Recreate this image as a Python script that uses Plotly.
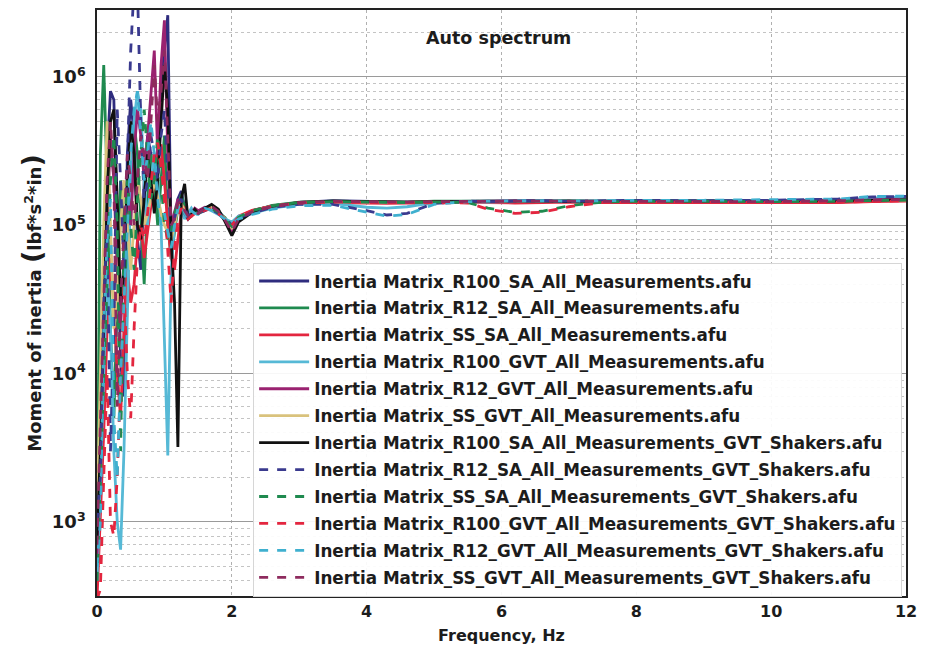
import plotly.graph_objects as go

# Frequency grids (Hz)
F_LOW = [0.00, 0.05, 0.10, 0.15, 0.20, 0.25, 0.30, 0.35, 0.40, 0.45, 0.50, 0.55, 0.60, 0.65, 0.70,
         0.75, 0.80, 0.85, 0.90, 0.95, 1.00, 1.05, 1.10, 1.15, 1.20, 1.25, 1.30, 1.35, 1.40, 1.45, 1.50]
F_HIGH = [1.6, 1.7, 1.8, 1.9, 2.0, 2.1, 2.3, 2.6, 3.0, 3.5, 4.0, 4.3, 4.6, 5.0, 5.5, 5.8, 6.2, 6.6,
          7.0, 7.5, 8.0, 9.0, 10.0, 11.0, 11.5, 12.0]

NAMES = [
    "Inertia Matrix_R100_SA_All_Measurements.afu",
    "Inertia Matrix_R12_SA_All_Measurements.afu",
    "Inertia Matrix_SS_SA_All_Measurements.afu",
    "Inertia Matrix_R100_GVT_All_Measurements.afu",
    "Inertia Matrix_R12_GVT_All_Measurements.afu",
    "Inertia Matrix_SS_GVT_All_Measurements.afu",
    "Inertia Matrix_R100_SA_All_Measurements_GVT_Shakers.afu",
    "Inertia Matrix_R12_SA_All_Measurements_GVT_Shakers.afu",
    "Inertia Matrix_SS_SA_All_Measurements_GVT_Shakers.afu",
    "Inertia Matrix_R100_GVT_All_Measurements_GVT_Shakers.afu",
    "Inertia Matrix_R12_GVT_All_Measurements_GVT_Shakers.afu",
    "Inertia Matrix_SS_GVT_All_Measurements_GVT_Shakers.afu",
]

# Low-frequency values (lbf*s^2*in)
R100_SA_LOW = [2e3, 8e3, 6e4, 3e5, 8e5, 7e5, 1e5, 1.2e4, 7e3, 3e5, 7e5, 4e5, 8e4, 5e4, 2e5, 4e5,
               3e5, 1.5e5, 3e5, 9e5, 1.5e6, 2.6e6, 8e4, 1e5, 1.5e5, 1.7e5, 1.3e5, 1.15e5, 1.2e5, 1.25e5, 1.2e5]
R12_SA_LOW = [5e2, 3e5, 1.2e6, 2e5, 2e4, 5e3, 3e4, 2e5, 1e5, 3e4, 2e5, 5e5, 3e5, 1e5, 4e4, 1.5e5,
              3e5, 2e5, 1e5, 2e5, 4e5, 1e5, 6e4, 9e4, 1.3e5, 1.6e5, 1.3e5, 1.1e5, 1.15e5, 1.25e5, 1.2e5]
SS_SA_LOW = [3e2, 1e3, 4e3, 2e4, 6e4, 3e4, 1e4, 5e3, 2e4, 5e4, 3e4, 4e4, 8e4, 1e5, 6e4, 9e4,
             1.3e5, 2e5, 3e5, 3.5e5, 2e5, 1e5, 6e4, 5e4, 8e4, 1.2e5, 1.3e5, 1.2e5, 1.15e5, 1.2e5, 1.22e5]
R100_GVT_LOW = [4e2, 2e3, 1e4, 5e4, 2e4, 3e3, 1e3, 6.5e2, 3e3, 3e4, 2e5, 5e5, 8e5, 6e5, 2e5, 1e5,
                2e5, 3e5, 2e5, 1e5, 2e4, 2.8e3, 5e4, 1e5, 1.4e5, 1.3e5, 1.1e5, 1.2e5, 1.3e5, 1.2e5, 1.18e5]
R12_GVT_LOW = [6e2, 5e3, 3e4, 1e5, 4e5, 2e5, 5e4, 2e4, 6e4, 2e5, 1e5, 3e5, 6e5, 4e5, 2e5, 4e5,
               8e5, 1.5e6, 3e5, 1.2e6, 2.4e6, 3e5, 1e5, 1.2e5, 1.5e5, 1.4e5, 1.2e5, 1.1e5, 1.2e5, 1.3e5, 1.25e5]
SS_GVT_LOW = [1e3, 1e4, 1e5, 5e5, 1e5, 2e4, 3e4, 1e5, 2e5, 1e5, 5e4, 1e5, 2e5, 1.5e5, 1e5, 1.2e5,
              1.5e5, 2e5, 1.5e5, 1.2e5, 1e5, 9e4, 8e4, 1e5, 1.3e5, 1.4e5, 1.25e5, 1.15e5, 1.2e5, 1.25e5, 1.2e5]
R100_SA_SH_LOW = [8e2, 3e3, 2e4, 1.5e5, 5e5, 6e5, 1.5e5, 3e4, 5e4, 2e5, 5e5, 3e5, 1e5, 8e4, 1.5e5, 3e5,
                  2e5, 1.2e5, 2e5, 5e5, 1.2e6, 6e5, 8e4, 3e4, 3.2e3, 1.5e5, 1.9e5, 1.1e5, 1.2e5, 1.28e5, 1.2e5]
R12_SA_SH_LOW = [1e3, 2e3, 3e4, 1e5, 3e3, 2e4, 6e5, 2e5, 5e4, 3e5, 1.5e6, 4e6, 4e6, 5e5, 1.5e5, 2e5,
                 4e5, 3e5, 2e5, 4e5, 6e5, 2e5, 9e4, 1.1e5, 1.4e5, 1.5e5, 1.3e5, 1.15e5, 1.2e5, 1.25e5, 1.2e5]
SS_SA_SH_LOW = [4e2, 2e3, 8e3, 5e4, 2e5, 4e5, 1e5, 3e3, 8e4, 2e5, 1e5, 5e4, 1.5e5, 3e5, 6e5, 3e5,
                1.5e5, 2e5, 4e5, 2e5, 1e5, 8e4, 9e4, 1.2e5, 1.4e5, 1.35e5, 1.2e5, 1.15e5, 1.2e5, 1.22e5, 1.2e5]
R100_GVT_SH_LOW = [3e2, 3.5e2, 2e3, 1e4, 1e3, 8e2, 2e3, 1e4, 4e4, 1e4, 5e3, 2e4, 6e4, 1e5, 8e4, 1.2e5,
                   2e5, 3e5, 3.6e5, 2.5e5, 1.5e5, 7e4, 3e4, 7e4, 1.1e5, 1.3e5, 1.2e5, 1.1e5, 1.15e5, 1.2e5, 1.2e5]
R12_GVT_SH_LOW = [5e2, 1e3, 2e4, 8e4, 1.5e5, 5e3, 2e3, 1e4, 3e4, 1e5, 3e5, 6e5, 8e5, 4e5, 2e5, 3e5,
                  5e5, 3e5, 1.5e5, 1e5, 1.2e5, 9e4, 7e4, 1e5, 1.3e5, 1.4e5, 1.2e5, 1.1e5, 1.25e5, 1.2e5, 1.18e5]
SS_GVT_SH_LOW = [7e2, 4e3, 3e4, 2e5, 5e5, 2e5, 6e3, 3e4, 1e5, 3e5, 2e5, 1e5, 2e5, 4e5, 3e5, 2e5,
                 5e5, 1.2e6, 5e5, 8e5, 1.5e6, 4e5, 1e5, 1.1e5, 1.4e5, 1.45e5, 1.25e5, 1.15e5, 1.2e5, 1.22e5, 1.2e5]

# High-frequency values
R100_SA_HIGH = [1.3e5, 1.35e5, 1.25e5, 1.1e5, 8.7e4, 1.1e5, 1.25e5, 1.35e5, 1.42e5, 1.46e5, 1.44e5, 1.43e5, 1.43e5,
                1.44e5, 1.45e5, 1.44e5, 1.45e5, 1.46e5, 1.45e5, 1.44e5, 1.45e5, 1.45e5, 1.44e5, 1.45e5, 1.47e5, 1.48e5]
R12_SA_HIGH = [1.28e5, 1.33e5, 1.22e5, 1.12e5, 9.5e4, 1.12e5, 1.24e5, 1.36e5, 1.43e5, 1.45e5, 1.44e5, 1.44e5, 1.43e5,
               1.45e5, 1.46e5, 1.45e5, 1.44e5, 1.45e5, 1.46e5, 1.45e5, 1.44e5, 1.46e5, 1.45e5, 1.44e5, 1.46e5, 1.47e5]
SS_SA_HIGH = [1.25e5, 1.3e5, 1.2e5, 1.1e5, 1e5, 1.15e5, 1.26e5, 1.34e5, 1.4e5, 1.42e5, 1.41e5, 1.4e5, 1.41e5,
              1.42e5, 1.43e5, 1.42e5, 1.41e5, 1.42e5, 1.43e5, 1.42e5, 1.42e5, 1.43e5, 1.42e5, 1.42e5, 1.44e5, 1.45e5]
R100_GVT_HIGH = [1.3e5, 1.25e5, 1.18e5, 1.1e5, 1.05e5, 1.15e5, 1.2e5, 1.3e5, 1.38e5, 1.4e5, 1.32e5, 1.3e5, 1.33e5,
                 1.42e5, 1.44e5, 1.43e5, 1.44e5, 1.45e5, 1.44e5, 1.45e5, 1.46e5, 1.45e5, 1.46e5, 1.48e5, 1.52e5, 1.55e5]
R12_GVT_HIGH = [1.32e5, 1.3e5, 1.2e5, 1.08e5, 9.2e4, 1.1e5, 1.22e5, 1.33e5, 1.41e5, 1.44e5, 1.43e5, 1.42e5, 1.42e5,
                1.44e5, 1.45e5, 1.44e5, 1.45e5, 1.45e5, 1.44e5, 1.44e5, 1.45e5, 1.44e5, 1.45e5, 1.46e5, 1.48e5, 1.5e5]
SS_GVT_HIGH = [1.27e5, 1.32e5, 1.22e5, 1.1e5, 9.6e4, 1.12e5, 1.24e5, 1.34e5, 1.42e5, 1.44e5, 1.43e5, 1.42e5, 1.42e5,
               1.44e5, 1.44e5, 1.43e5, 1.44e5, 1.45e5, 1.44e5, 1.44e5, 1.44e5, 1.45e5, 1.44e5, 1.45e5, 1.46e5, 1.47e5]
R100_SA_SH_HIGH = [1.3e5, 1.38e5, 1.28e5, 1.05e5, 8.5e4, 1.05e5, 1.22e5, 1.33e5, 1.42e5, 1.45e5, 1.44e5, 1.43e5, 1.43e5,
                   1.44e5, 1.45e5, 1.45e5, 1.45e5, 1.45e5, 1.44e5, 1.45e5, 1.45e5, 1.44e5, 1.45e5, 1.45e5, 1.47e5, 1.48e5]
R12_SA_SH_HIGH = [1.25e5, 1.28e5, 1.2e5, 1.12e5, 1e5, 1.12e5, 1.2e5, 1.32e5, 1.38e5, 1.38e5, 1.25e5, 1.17e5, 1.2e5,
                  1.4e5, 1.45e5, 1.44e5, 1.45e5, 1.46e5, 1.45e5, 1.46e5, 1.47e5, 1.46e5, 1.47e5, 1.5e5, 1.55e5, 1.56e5]
SS_SA_SH_HIGH = [1.28e5, 1.3e5, 1.22e5, 1.1e5, 9.8e4, 1.13e5, 1.25e5, 1.35e5, 1.42e5, 1.44e5, 1.43e5, 1.43e5, 1.42e5,
                 1.43e5, 1.42e5, 1.3e5, 1.22e5, 1.24e5, 1.35e5, 1.43e5, 1.45e5, 1.45e5, 1.44e5, 1.45e5, 1.47e5, 1.48e5]
R100_GVT_SH_HIGH = [1.26e5, 1.3e5, 1.2e5, 1.1e5, 1e5, 1.14e5, 1.25e5, 1.34e5, 1.41e5, 1.43e5, 1.42e5, 1.42e5, 1.41e5,
                    1.42e5, 1.41e5, 1.28e5, 1.2e5, 1.22e5, 1.33e5, 1.42e5, 1.43e5, 1.43e5, 1.42e5, 1.43e5, 1.45e5, 1.46e5]
R12_GVT_SH_HIGH = [1.3e5, 1.26e5, 1.18e5, 1.1e5, 1.02e5, 1.1e5, 1.18e5, 1.28e5, 1.35e5, 1.36e5, 1.22e5, 1.15e5, 1.18e5,
                   1.38e5, 1.44e5, 1.45e5, 1.46e5, 1.46e5, 1.45e5, 1.46e5, 1.47e5, 1.47e5, 1.48e5, 1.5e5, 1.56e5, 1.57e5]
SS_GVT_SH_HIGH = [1.3e5, 1.34e5, 1.24e5, 1.08e5, 9e4, 1.1e5, 1.23e5, 1.34e5, 1.42e5, 1.45e5, 1.44e5, 1.43e5, 1.43e5,
                  1.44e5, 1.45e5, 1.44e5, 1.45e5, 1.45e5, 1.45e5, 1.44e5, 1.45e5, 1.45e5, 1.44e5, 1.46e5, 1.48e5, 1.49e5]

SERIES_LOW = [R100_SA_LOW, R12_SA_LOW, SS_SA_LOW, R100_GVT_LOW, R12_GVT_LOW, SS_GVT_LOW,
              R100_SA_SH_LOW, R12_SA_SH_LOW, SS_SA_SH_LOW, R100_GVT_SH_LOW, R12_GVT_SH_LOW, SS_GVT_SH_LOW]
SERIES_HIGH = [R100_SA_HIGH, R12_SA_HIGH, SS_SA_HIGH, R100_GVT_HIGH, R12_GVT_HIGH, SS_GVT_HIGH,
               R100_SA_SH_HIGH, R12_SA_SH_HIGH, SS_SA_SH_HIGH, R100_GVT_SH_HIGH, R12_GVT_SH_HIGH, SS_GVT_SH_HIGH]

COLORS = ["#2f2c7e", "#1f8a4f", "#e3263f", "#56b9d6", "#9a2270", "#d9c27c",
          "#111111", "#3a3a8e", "#1f8a4f", "#e3263f", "#3fb0cf", "#8e2b5e"]
DASHES = ["solid"] * 7 + ["dash"] * 5

Y_TICKS = [1e3, 1e4, 1e5, 1e6]
Y_TICK_TEXT = ["10<sup>3</sup>", "10<sup>4</sup>", "10<sup>5</sup>", "10<sup>6</sup>"]
X_TICKS = [0, 2, 4, 6, 8, 10, 12]

FONT = "DejaVu Sans, Verdana, sans-serif"
INK = "#1c1c1c"

fig = go.Figure()
for name, lo, hi, col, dash in zip(NAMES, SERIES_LOW, SERIES_HIGH, COLORS, DASHES):
    fig.add_trace(go.Scatter(
        x=F_LOW + F_HIGH, y=lo + hi, mode="lines", name=name, legendgroup=name,
        line=dict(color=col, width=2.8, dash=dash),
    ))

minor_vals = [m * 10 ** e for e in range(2, 7) for m in range(2, 10)]

fig.update_layout(
    width=925, height=656,
    margin=dict(l=97, r=19, t=8, b=60),
    paper_bgcolor="white", plot_bgcolor="white",
    font=dict(family=FONT, color=INK, weight="bold"),
    showlegend=True,
    legend=dict(
        x=0.193, y=0.569, xanchor="left", yanchor="top",
        bgcolor="rgba(255,255,255,0.92)", bordercolor="#d6d6d6", borderwidth=1,
        font=dict(family=FONT, size=16.8, color=INK, weight="bold"),
        tracegroupgap=2.1, itemwidth=50,
    ),
    annotations=[dict(
        text="Auto spectrum", x=0.496, y=0.952, xref="paper", yref="paper",
        xanchor="center", yanchor="middle",
        showarrow=False, font=dict(family=FONT, size=17.5, color=INK, weight="bold"),
    )],
    xaxis=dict(
        range=[0, 12], tickvals=X_TICKS, ticks="", showline=True, mirror=True,
        linecolor="#222", linewidth=1.5, showgrid=True, gridcolor="#b0b0b0", griddash="dot",
        gridwidth=1, zeroline=False,
        tickfont=dict(size=16, family=FONT, color=INK, weight="bold"),
        title=dict(text="Frequency, Hz", font=dict(size=16, family=FONT, weight="bold"), standoff=10),
    ),
    yaxis=dict(
        type="log", range=[2.5, 6.45], tickmode="array", tickvals=Y_TICKS, ticktext=Y_TICK_TEXT,
        ticks="", showline=True, mirror=True, linecolor="#222", linewidth=1.5,
        showgrid=True, gridcolor="#9a9a9a", gridwidth=1, ticklabelstandoff=6,
        minor=dict(tickmode="array", tickvals=minor_vals, showgrid=True,
                   gridcolor="#c4c4c4", griddash="dot", gridwidth=1),
        tickfont=dict(size=18, family=FONT, color=INK, weight="bold"),
        title=dict(text="Moment of inertia <span style='font-size:27px'>(</span>lbf*s<sup>2</sup>*in<span style='font-size:27px'>)</span>",
                   font=dict(size=18, family=FONT, weight="bold"), standoff=6),
    ),
)

fig.write_html("out.html")
